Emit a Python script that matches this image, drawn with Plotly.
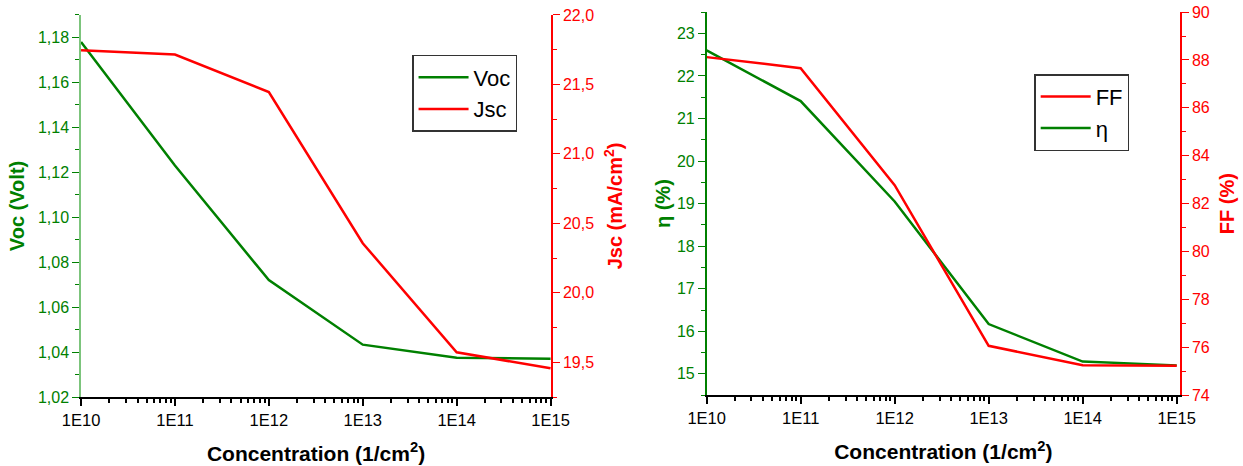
import plotly.graph_objects as go

conc = [1e10, 1e11, 1e12, 1e13, 1e14, 1e15]
voc = [1.178, 1.123, 1.072, 1.0433, 1.0375, 1.037]
jsc = [21.746, 21.715, 21.445, 20.357, 19.572, 19.457]
eta = [22.6, 21.41, 19.05, 16.17, 15.29, 15.2]
ff = [88.12, 87.66, 82.77, 76.06, 75.25, 75.23]
xtick_vals = [1e10, 1e11, 1e12, 1e13, 1e14, 1e15]
xtick_text = ["1E10", "1E11", "1E12", "1E13", "1E14", "1E15"]

GREEN = "#008000"
RED = "#ff0000"
FONT = "Liberation Sans, Arial, sans-serif"

fig = go.Figure()
fig.add_trace(go.Scatter(x=conc, y=voc, mode="lines", name="Voc",
                         line=dict(color=GREEN, width=2.5), xaxis="x", yaxis="y", legend="legend"))
fig.add_trace(go.Scatter(x=conc, y=jsc, mode="lines", name="Jsc",
                         line=dict(color=RED, width=2.5), xaxis="x", yaxis="y2", legend="legend"))
fig.add_trace(go.Scatter(x=conc, y=ff, mode="lines", name="FF",
                         line=dict(color=RED, width=2.5), xaxis="x2", yaxis="y4", legend="legend2"))
fig.add_trace(go.Scatter(x=conc, y=eta, mode="lines", name="η",
                         line=dict(color=GREEN, width=2.5), xaxis="x2", yaxis="y3", legend="legend2"))

xcommon = dict(type="log", tickmode="array", tickvals=xtick_vals, ticktext=xtick_text,
               showline=True, linecolor="black", linewidth=1.5, ticks="outside", ticklen=7,
               tickcolor="black", tickwidth=1.5, showgrid=False, zeroline=False, automargin=False,
               tickfont=dict(family=FONT, size=16.5, color="black"),
               minor=dict(ticks="outside", ticklen=4, dtick="D1", tickcolor="black", showgrid=False),
               title=dict(text="<b>Concentration (1/cm<sup>2</sup>)</b>",
                          font=dict(family=FONT, size=21, color="black"), standoff=19))

def ycommon(color, title, rng, dtick, minor_dtick, fmt, linecolor, standoff):
    return dict(range=rng, dtick=dtick, tick0=0, tickformat=fmt, automargin=False,
                showline=True, linecolor=linecolor, linewidth=1.5, ticks="outside", ticklen=7,
                tickcolor=color, tickwidth=1.2, showgrid=False, zeroline=False,
                tickfont=dict(family=FONT, size=16, color=color),
                minor=dict(ticks="outside", ticklen=4, dtick=minor_dtick, tickcolor=color, showgrid=False),
                title=dict(text=title, font=dict(family=FONT, size=20, color=color), standoff=standoff))

legend_common = dict(xanchor="left", yanchor="top", bgcolor="white",
                     bordercolor="#333333", borderwidth=1.5, itemwidth=50,
                     font=dict(family=FONT, size=22, color="black"), tracegroupgap=0)

fig.update_layout(
    width=1243, height=466, margin=dict(l=0, r=0, t=0, b=0),
    paper_bgcolor="white", plot_bgcolor="white", separators=",.",
    xaxis=dict(domain=[0.0652, 0.4433], range=[10, 15.005], anchor="y", **xcommon),
    xaxis2=dict(domain=[0.5685, 0.9493], range=[10, 15.035], anchor="y3", **xcommon),
    yaxis=dict(domain=[0.148, 0.968], anchor="x",
               **ycommon(GREEN, "<b>Voc (Volt)</b>", [1.02, 1.19], 0.02, 0.01, ".2f", "#7cc47c", 8)),
    yaxis2=dict(domain=[0.148, 0.968], anchor="x", overlaying="y", side="right",
                **ycommon(RED, "<b>Jsc (mA/cm<sup>2</sup>)</b>", [19.25, 22.0], 0.5, 0.25, ".1f", RED, 15)),
    yaxis3=dict(domain=[0.152, 0.974], anchor="x2",
                **ycommon(GREEN, "<b>η (%)</b>", [14.5, 23.5], 1, 0.5, "d", GREEN, 1)),
    yaxis4=dict(domain=[0.152, 0.974], anchor="x2", overlaying="y3", side="right",
                **ycommon(RED, "<b>FF (%)</b>", [74, 90], 2, 1, "d", RED, 11)),
    legend=dict(x=0.3315, y=0.882, **legend_common),
    legend2=dict(x=0.832, y=0.841, **legend_common),
    showlegend=True,
)

fig.write_html("out.html")
